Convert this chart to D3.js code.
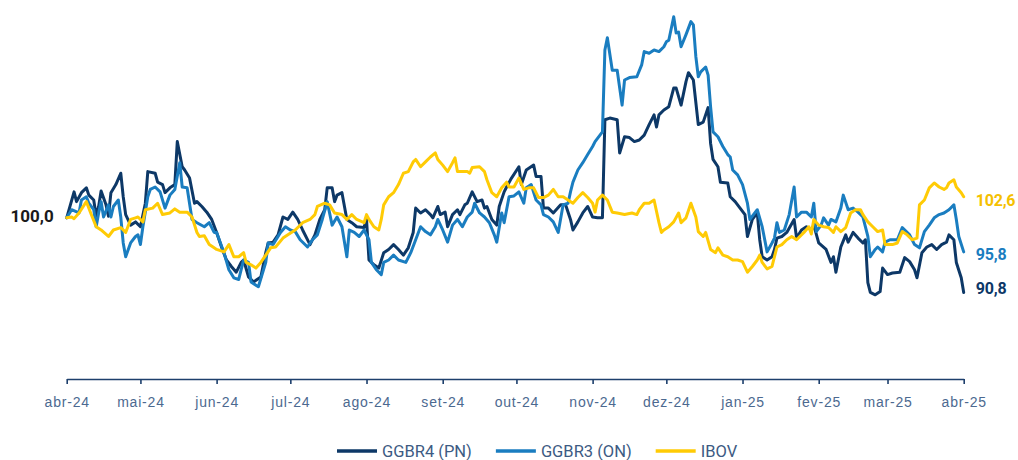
<!DOCTYPE html>
<html>
<head>
<meta charset="utf-8">
<script src="https://cdn.jsdelivr.net/npm/d3@7"></script>
<style>
  body { margin: 0; background: #fff; }
  svg { display: block; font-family: Roboto, "Noto Sans", sans-serif; }
</style>
</head>
<body>
<div id="chart"></div>
<script>
// dados: [dias desde startDate, índice base 100]
const startDate = "2024-04-01";
const endDate = "2025-04-01";
const monthLabels = ["abr-24", "mai-24", "jun-24", "jul-24", "ago-24", "set-24", "out-24",
  "nov-24", "dez-24", "jan-25", "fev-25", "mar-25", "abr-25"];
const seriesNames = ["GGBR4 (PN)", "GGBR3 (ON)", "IBOV"];

const ggbr4 = [[0,100.0],[3,103.2],[4,102.0],[6,103.1],[8,103.7],[9,102.8],[11,102.2],[12,100.2],[13,101.4],[14,103.3],[16,101.6],[17,100.2],[18,103.1],[20,104.1],[22,105.5],[23,102.6],[24,100.4],[26,99.1],[28,99.5],[30,98.9],[32,101.8],[33,105.7],[36,105.5],[37,104.4],[39,104.1],[40,103.1],[42,103.7],[44,104.1],[45,109.4],[47,106.3],[48,105.9],[50,104.9],[52,101.8],[53,102.0],[55,101.4],[57,100.7],[59,99.8],[61,98.2],[63,96.4],[65,94.8],[67,94.0],[69,93.3],[71,94.5],[72,94.8],[74,92.7],[76,92.1],[79,92.7],[81,95.7],[82,96.9],[84,97.0],[86,97.9],[88,100.1],[90,99.8],[92,100.7],[94,99.8],[96,98.5],[99,96.7],[101,97.9],[103,99.8],[105,101.0],[106,103.7],[108,103.7],[109,102.0],[110,102.8],[112,103.1],[114,99.8],[116,99.4],[118,98.9],[121,98.8],[122,99.8],[123,94.8],[125,94.2],[127,93.8],[129,95.7],[131,96.1],[133,96.7],[135,96.1],[137,95.4],[139,96.3],[141,98.2],[142,101.2],[144,100.6],[146,101.0],[148,100.4],[149,100.0],[151,101.4],[152,100.4],[154,100.7],[155,98.9],[157,100.4],[159,101.0],[160,100.4],[162,101.6],[163,101.8],[165,103.2],[167,102.0],[169,102.2],[170,101.2],[171,101.4],[173,99.8],[175,99.1],[176,101.4],[178,103.2],[179,103.8],[181,104.9],[184,106.3],[185,104.1],[187,105.9],[190,106.5],[191,105.1],[193,105.1],[194,101.2],[196,101.2],[198,100.6],[201,101.6],[203,101.6],[205,99.8],[206,98.5],[208,99.5],[210,100.6],[212,101.4],[214,100.1],[216,100.0],[218,100.0],[219,112.1],[221,112.3],[224,112.1],[225,108.0],[227,110.0],[229,109.9],[231,109.4],[233,109.6],[235,110.2],[237,111.5],[239,112.7],[240,111.2],[241,112.7],[243,113.3],[245,113.7],[247,116.0],[248,116.0],[250,113.9],[252,116.8],[253,117.9],[255,117.0],[257,111.5],[259,111.8],[261,113.6],[262,109.2],[263,107.2],[265,106.3],[266,104.4],[269,104.3],[270,102.6],[272,102.0],[274,101.2],[276,100.4],[277,97.7],[279,99.8],[281,100.6],[282,97.3],[283,95.2],[285,94.8],[287,95.2],[288,96.1],[289,97.5],[291,97.7],[293,98.2],[296,99.8],[297,97.5],[299,98.5],[301,98.9],[303,98.5],[304,99.1],[306,96.9],[309,96.1],[311,94.5],[312,95.2],[313,93.3],[315,96.4],[317,97.9],[318,97.0],[320,98.2],[322,97.5],[324,96.9],[325,97.3],[326,92.0],[327,90.8],[329,90.5],[331,90.9],[332,93.8],[334,93.0],[336,93.2],[339,93.3],[341,95.1],[343,94.6],[345,93.6],[346,92.6],[348,95.7],[350,96.4],[352,96.7],[354,96.1],[356,96.7],[358,97.0],[359,97.9],[361,97.3],[362,94.5],[364,92.6],[365,90.8]];

const ggbr3 = [[0,100.0],[2,101.0],[5,100.6],[6,102.2],[8,102.6],[9,101.8],[11,101.0],[12,98.9],[13,100.6],[14,102.0],[15,100.1],[17,101.6],[18,100.1],[19,101.4],[21,102.2],[22,100.1],[23,96.9],[24,95.2],[26,96.9],[28,97.7],[29,97.9],[30,96.7],[31,98.9],[33,102.6],[34,103.5],[36,103.8],[38,103.2],[40,101.2],[42,102.8],[44,103.5],[46,106.8],[47,103.8],[49,103.7],[51,99.8],[53,99.4],[56,98.9],[58,99.4],[60,98.2],[61,98.2],[64,95.7],[66,93.6],[68,92.6],[70,92.4],[72,94.8],[74,94.5],[75,92.1],[77,91.7],[78,91.5],[81,94.5],[82,96.9],[84,96.7],[87,98.2],[89,98.9],[91,98.5],[93,98.3],[95,97.3],[98,96.4],[100,97.3],[102,97.9],[104,99.8],[106,102.0],[108,99.1],[110,100.1],[112,98.9],[114,95.2],[115,98.5],[117,98.2],[119,97.7],[121,98.5],[123,97.3],[124,94.5],[126,93.6],[128,93.0],[129,94.5],[131,94.8],[133,95.4],[135,94.8],[138,94.5],[140,95.7],[142,97.3],[144,98.9],[146,98.3],[148,97.9],[150,98.9],[151,99.8],[153,98.5],[155,97.0],[157,99.1],[159,99.8],[161,98.9],[163,100.1],[165,100.7],[166,101.8],[168,100.6],[170,100.1],[172,99.4],[174,97.9],[175,97.0],[177,100.6],[178,99.4],[180,102.6],[182,102.7],[184,103.2],[186,101.8],[187,103.7],[189,104.1],[191,102.2],[193,101.6],[194,100.4],[196,100.1],[198,99.5],[200,98.2],[202,101.6],[204,101.8],[205,103.2],[206,104.4],[208,105.9],[210,106.8],[212,107.8],[214,108.8],[215,109.4],[217,110.2],[218,110.6],[219,120.7],[220,122.2],[222,118.2],[224,118.2],[226,113.9],[227,117.0],[229,117.3],[232,117.4],[234,118.9],[235,120.5],[237,120.3],[239,120.7],[241,120.5],[243,121.1],[244,121.7],[245,121.9],[247,124.8],[248,122.8],[249,122.9],[250,121.1],[252,122.6],[254,124.2],[255,123.8],[256,119.9],[257,117.4],[258,118.0],[260,118.6],[261,117.6],[262,113.7],[263,110.6],[265,110.0],[267,108.8],[269,107.8],[270,107.5],[271,105.9],[273,105.3],[275,104.1],[277,101.8],[278,99.8],[280,100.6],[281,101.0],[283,98.9],[285,95.8],[287,96.9],[288,97.5],[289,99.4],[290,98.2],[292,98.5],[294,100.4],[296,103.8],[297,100.1],[299,100.7],[301,100.7],[303,100.1],[304,101.8],[305,98.3],[307,99.1],[308,100.0],[310,99.1],[311,99.8],[313,99.5],[315,101.2],[316,102.8],[318,101.0],[320,101.2],[322,100.7],[324,100.1],[326,97.7],[327,95.2],[329,96.1],[330,96.4],[332,95.8],[333,97.0],[335,97.3],[338,97.3],[340,98.8],[343,97.9],[345,96.7],[347,96.3],[349,98.3],[351,99.1],[353,100.0],[355,100.4],[357,100.6],[359,101.0],[361,101.6],[362,99.8],[363,97.7],[365,95.8]];

const ibov = [[0,100.0],[2,100.1],[3,99.9],[5,100.6],[8,102.0],[10,100.4],[12,98.9],[14,98.5],[17,97.7],[19,98.5],[22,98.8],[24,98.2],[26,99.8],[28,100.0],[29,100.1],[31,99.5],[32,101.0],[35,101.2],[37,101.8],[39,100.4],[42,100.6],[44,101.1],[46,100.7],[49,100.7],[51,100.1],[53,98.2],[54,97.7],[56,97.8],[58,96.7],[60,96.3],[61,96.1],[64,95.8],[66,96.7],[68,95.2],[70,95.2],[72,95.7],[73,94.5],[75,94.2],[77,93.8],[79,94.5],[81,95.4],[83,96.3],[85,96.4],[88,97.5],[90,97.9],[93,98.5],[96,99.4],[99,99.8],[101,100.4],[102,101.4],[105,101.8],[107,101.6],[109,100.6],[112,100.4],[114,99.8],[116,100.4],[118,99.8],[121,99.4],[122,100.4],[123,99.8],[125,98.9],[127,98.5],[128,99.8],[129,101.6],[131,102.6],[133,103.1],[135,104.1],[137,105.5],[139,105.7],[141,106.9],[142,107.2],[144,106.3],[146,106.9],[148,107.5],[150,108.0],[151,107.2],[153,106.5],[155,105.7],[157,106.8],[158,107.4],[159,105.7],[161,105.7],[163,105.7],[164,105.5],[165,106.2],[168,106.3],[170,105.7],[171,104.7],[173,103.1],[175,102.6],[177,103.7],[179,104.4],[180,103.8],[182,103.8],[184,104.9],[186,103.5],[188,103.7],[190,103.7],[192,102.5],[194,102.5],[196,102.8],[198,103.5],[200,102.6],[202,102.6],[206,101.8],[208,102.5],[210,103.1],[212,102.5],[214,101.8],[215,100.7],[216,102.2],[218,102.8],[220,102.2],[222,100.7],[224,100.6],[227,100.4],[230,100.6],[232,100.4],[233,101.0],[235,101.8],[237,101.8],[239,102.2],[241,99.4],[242,98.2],[243,98.5],[245,98.9],[247,99.5],[249,100.6],[250,99.4],[252,100.0],[254,101.8],[256,100.1],[257,98.3],[259,97.7],[260,98.2],[262,96.1],[264,95.7],[265,96.3],[267,95.4],[269,95.2],[271,94.8],[273,94.8],[275,94.6],[277,93.3],[279,94.0],[281,94.8],[282,95.4],[283,94.5],[285,93.7],[287,94.0],[289,96.4],[291,96.7],[293,97.3],[295,97.7],[297,97.3],[300,98.2],[302,98.9],[303,98.0],[304,99.8],[306,99.1],[308,98.9],[310,98.8],[312,98.2],[313,98.9],[315,98.3],[317,98.8],[319,100.6],[321,101.0],[323,101.0],[324,100.4],[326,99.5],[328,98.9],[330,98.3],[332,98.5],[333,96.7],[336,96.7],[338,96.9],[340,98.3],[342,97.9],[344,97.3],[346,97.5],[347,101.6],[349,102.2],[351,103.7],[353,104.3],[355,103.8],[357,103.5],[358,103.7],[359,104.3],[361,104.7],[362,103.8],[364,103.1],[365,102.6]];

const startLabel = "100,0";
const endLabels = ["90,8", "95,8", "102,6"];

// layout
const width = 1018;
const height = 460;
const colors = ["#0d3867", "#1a7dc0", "#ffcb05"];
const labelColors = ["#0d3867", "#1a7dc0", "#f5c000"];
const labelDy = [1.4, 8, 9.6];
const axisY = 379;

const parse = d3.utcParse("%Y-%m-%d");
const t0 = parse(startDate);
const t1 = parse(endDate);

const x = d3.scaleUtc().domain([t0, t1]).range([66.7, 963.7]);
const y = d3.scaleLinear().domain([80, 126]).range([380, 7]);

const svg = d3.select("#chart").append("svg")
  .attr("width", width)
  .attr("height", height)
  .attr("viewBox", `0 0 ${width} ${height}`);

// eixo x
const tickDates = d3.utcMonth.range(t0, d3.utcDay.offset(t1, 1));
const xAxis = d3.axisBottom(x)
  .tickValues(tickDates)
  .tickFormat((d, i) => monthLabels[i])
  .tickSize(5)
  .tickSizeOuter(0)
  .tickPadding(12.7);

const gx = svg.append("g")
  .attr("transform", `translate(0,${axisY})`)
  .call(xAxis);
gx.select(".domain").attr("stroke", "#1d3f6c").attr("stroke-width", 1.6);
gx.selectAll(".tick line").attr("stroke", "#1d3f6c").attr("stroke-width", 1.6);
gx.selectAll(".tick text")
  .attr("fill", "#4c6990")
  .style("font-size", "14px")
  .style("letter-spacing", "0.8px");

// linhas
const line = d3.line()
  .x(d => x(d3.utcDay.offset(t0, d[0])))
  .y(d => y(d[1]));

const series = [ggbr4, ggbr3, ibov];
svg.append("g")
  .selectAll("path")
  .data(series)
  .join("path")
  .attr("d", line)
  .attr("fill", "none")
  .attr("stroke", (d, i) => colors[i])
  .attr("stroke-width", 3)
  .attr("stroke-linejoin", "round")
  .attr("stroke-linecap", "round");

// rótulos
svg.append("text")
  .attr("x", x(t0) - 13)
  .attr("y", y(ggbr4[0][1]) + 4)
  .attr("text-anchor", "end")
  .attr("fill", "#1a1a1a")
  .style("font-size", "17px")
  .style("font-weight", 700)
  .text(startLabel);

svg.append("g")
  .selectAll("text")
  .data(series)
  .join("text")
  .attr("x", x(t1) + 12)
  .attr("y", (d, i) => y(d[d.length - 1][1]) + labelDy[i])
  .attr("fill", (d, i) => labelColors[i])
  .style("font-size", "16px")
  .style("font-weight", 700)
  .style("letter-spacing", "-0.2px")
  .text((d, i) => endLabels[i]);

// legenda
const legend = svg.append("g").attr("transform", "translate(337,451)");
let lx = 0;
seriesNames.forEach((name, i) => {
  const item = legend.append("g").attr("transform", `translate(${lx},0)`);
  item.append("line")
    .attr("x1", 0).attr("x2", 40)
    .attr("stroke", colors[i])
    .attr("stroke-width", 3.5);
  const t = item.append("text")
    .attr("x", 45)
    .attr("y", 5.5)
    .attr("fill", "#3d5b83")
    .style("font-size", "16.5px")
    .text(name);
  lx += 45 + t.node().getComputedTextLength() + 24;
});
</script>
</body>
</html>
